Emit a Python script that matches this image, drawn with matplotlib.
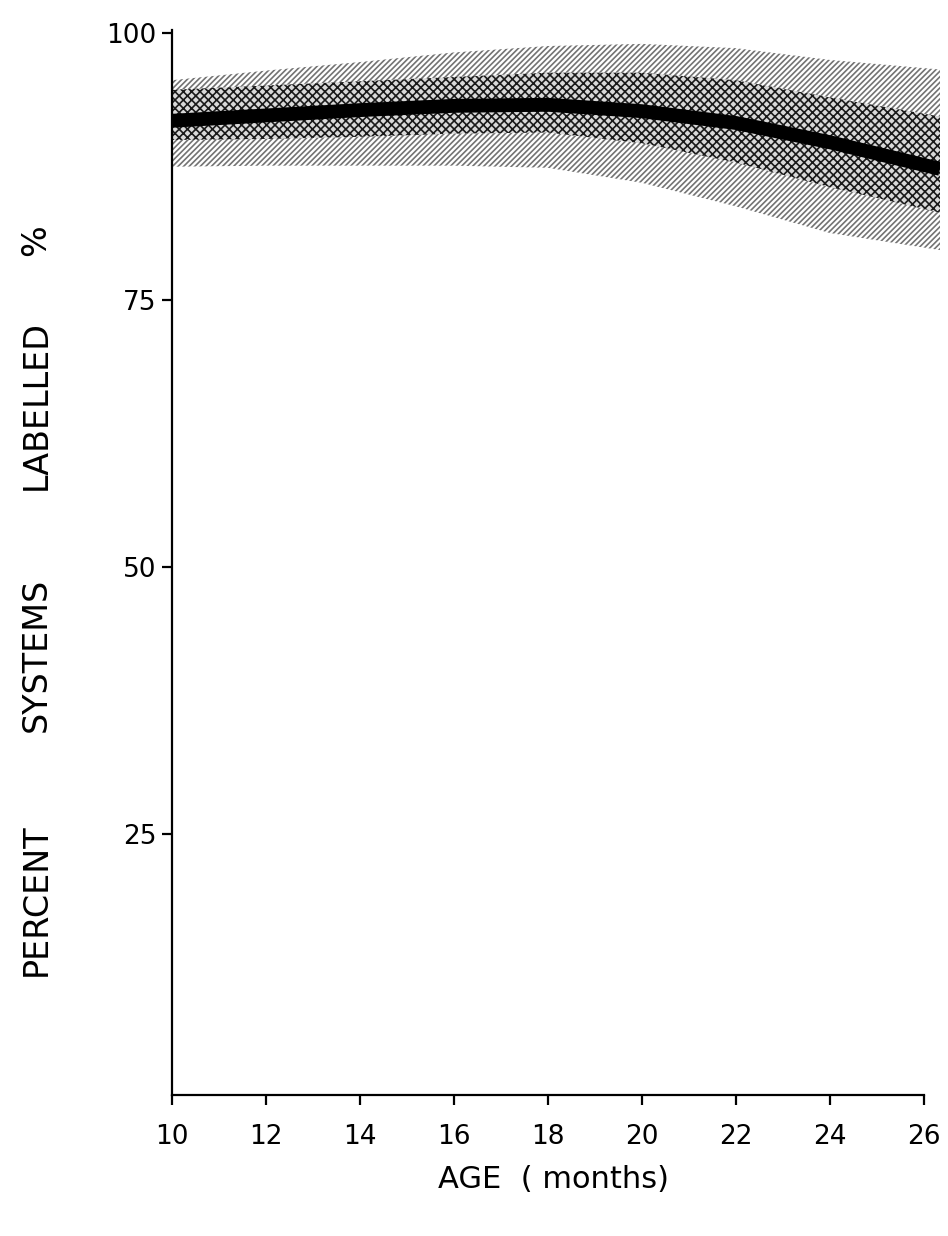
import matplotlib
matplotlib.use("Agg")
import matplotlib.pyplot as plt

# Data
age = [10, 12, 14, 16, 18, 20, 22, 24, 26.35]
percent = [91.8, 92.3, 92.8, 93.2, 93.3, 92.7, 91.6, 89.8, 87.3]
inner_hi = [94.7, 95.1, 95.5, 95.9, 96.3, 96.3, 95.6, 94.0, 92.2]
inner_lo = [90.0, 90.1, 90.3, 90.6, 90.7, 89.7, 87.9, 85.6, 83.2]
outer_hi = [95.6, 96.5, 97.3, 98.2, 98.8, 99.0, 98.6, 97.5, 96.6]
outer_lo = [87.5, 87.6, 87.6, 87.6, 87.4, 86.0, 83.8, 81.3, 79.7]

xticks = [10, 12, 14, 16, 18, 20, 22, 24, 26]
yticks = [25, 50, 75, 100]

ylabel_words = ['PERCENT', 'SYSTEMS', 'LABELLED', '%']
ylabel_centers_px = [900, 655, 405, 240]

plt.rcParams['font.family'] = ['DejaVu Sans']
plt.rcParams['hatch.linewidth'] = 1.2

fig = plt.figure(figsize=(9.48, 12.36), dpi=100)
ax = fig.add_axes([172/948, 1 - 1095/1236, (940 - 172)/948, (1095 - 30)/1236])

# outer band (diagonal hatch)
ax.fill_between(age, outer_lo, outer_hi, facecolor='none', edgecolor='0.45',
                hatch='//////', linewidth=0)
# inner band (dense cross hatch)
ax.fill_between(age, inner_lo, inner_hi, facecolor='0.85', edgecolor='0.1',
                hatch='xxxx', linewidth=0)
ax.plot(age, percent, color='black', lw=10, solid_capstyle='butt')

ax.set_xlim(10, 26.35)
ax.set_ylim(0.6, 100.3)
ax.spines['top'].set_visible(False)
ax.spines['right'].set_visible(False)
ax.spines['bottom'].set_bounds(10, 26)
ax.spines['left'].set_bounds(0.6, 100.3)
for s in ('left', 'bottom'):
    ax.spines[s].set_linewidth(1.6)

ax.set_xticks(xticks)
ax.set_xticklabels([str(t) for t in xticks])
ax.set_yticks(yticks)
ax.set_yticklabels([str(t) for t in yticks])
ax.tick_params(axis='both', direction='out', length=7, width=1.6,
               labelsize=19, pad=14)
ax.tick_params(axis='y', pad=4)

fig.text(553/948, 1 - 1180/1236, 'AGE  ( months)', fontsize=22,
         ha='center', va='center')
for word, cy in zip(ylabel_words, ylabel_centers_px):
    fig.text(36/948, 1 - cy/1236, word, fontsize=24, rotation=90,
             ha='center', va='center')

fig.savefig('out.png', dpi=100)
